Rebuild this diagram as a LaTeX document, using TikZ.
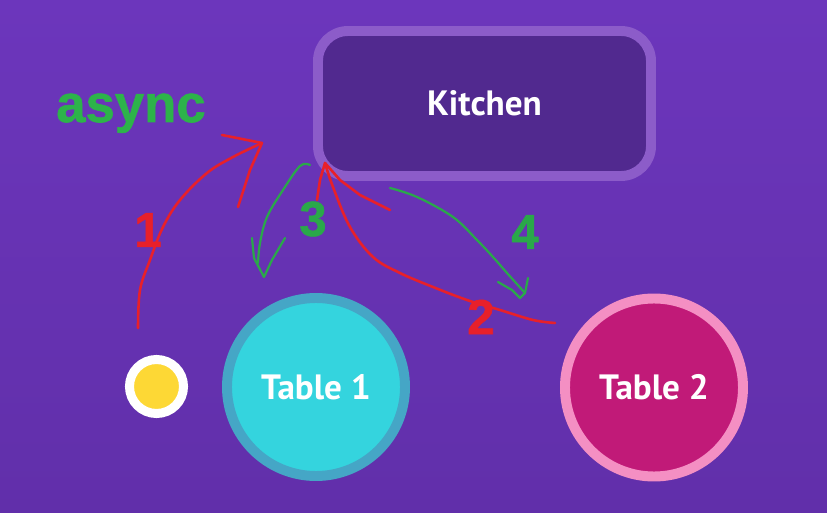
\documentclass[tikz,border=0pt]{standalone}
\usepackage{fontspec}
\setmainfont{PT Sans}
\newfontfamily\arialb{Liberation Sans Bold}[FakeBold=1.2]
\definecolor{bgtop}{HTML}{6C36BC}
\definecolor{bgbot}{HTML}{612FAA}
\definecolor{kring}{HTML}{8C5CC9}
\definecolor{kfill}{HTML}{51298F}
\definecolor{t1ring}{HTML}{45A6C6}
\definecolor{t1fill}{HTML}{34D4DE}
\definecolor{t2ring}{HTML}{F48FC3}
\definecolor{t2fill}{HTML}{C11A78}
\definecolor{dotyel}{HTML}{FDD835}
\definecolor{penred}{HTML}{E8202A}
\definecolor{pengreen}{HTML}{2AA84A}
\definecolor{asyncgreen}{HTML}{2DB34A}
\tikzset{
  boxlabel/.style={text=white,font=\fontsize{30}{36}\selectfont\bfseries},
  tablebox/.style={circle,minimum size=5.34cm,line width=8.5pt,boxlabel},
  redpen/.style={draw=penred,line width=2.2pt,line cap=round,line join=round},
  greenpen/.style={draw=pengreen,line width=1.9pt,line cap=round,line join=round},
  numred/.style={text=penred,font=\arialb\fontsize{42}{48}\selectfont},
  numgreen/.style={text=pengreen,font=\arialb\fontsize{42}{48}\selectfont}
}
\begin{document}
\begin{tikzpicture}[x=0.03cm,y=-0.03cm]
\useasboundingbox (0,0) rectangle (827,513);
\shade[top color=bgtop,bottom color=bgbot] (0,0) rectangle (827,513);

% Kitchen
\node[boxlabel,draw=kring,fill=kfill,line width=8.5pt,rounded corners=0.9cm,
      minimum width=9.99cm,minimum height=4.35cm] (kitchen) at (484.5,103.5) {Kitchen};

% Tables
\node[tablebox,draw=t1ring,fill=t1fill] (table1) at (316,387) {Table 1};
\node[tablebox,draw=t2ring,fill=t2fill] (table2) at (654,387.5) {Table 2};

% Yellow dot
\node[circle,draw=white,fill=dotyel,line width=7.7pt,minimum size=1.62cm] (dot) at (156.5,386.5) {};

% async label
\node[text=asyncgreen,font=\arialb\fontsize{45}{50}\selectfont,anchor=base west,inner sep=0pt] (async) at (56,122) {async};

% numbers
\node[numred] (n1) at (148,230) {1};
\node[numred] (n2) at (481,317) {2};
\node[numgreen] (n3) at (313,219) {3};
\node[numgreen] (n4) at (525,232) {4};

% coordinates
\coordinate (a1s) at (138,328);
\coordinate (a1t) at (262,143);
\coordinate (a2s) at (555,323);
\coordinate (a2t) at (325,163);
\coordinate (a3s) at (310,165);
\coordinate (a3t) at (264,277);
\coordinate (a4s) at (390,188);
\coordinate (a4t) at (525,293);

% Arrow 1 (red)
\draw[redpen] plot[smooth,tension=0.6] coordinates {(a1s) (140,290) (150,260) (163,227) (180,200) (207,173) (233,157) (a1t)};
\draw[redpen] (222,135) -- (a1t) -- (250,170) -- (238,207);

% Arrow 2 (red)
\draw[redpen] plot[smooth,tension=0.6] coordinates {(a2s) (533,320) (500,310) (467,300) (433,287) (400,273) (373,257) (350,227) (333,187) (a2t)};
\draw[redpen] (317,200) -- (320,180) -- (a2t) -- (340,180) -- (360,195) -- (390,210);

% Arrow 3 (green)
\draw[greenpen] plot[smooth,tension=0.6] coordinates {(a3s) (300,166) (283,190) (267,217) (260,243) (258,263)};
\draw[greenpen] (252,238) -- (254,258) -- (a3t) -- (272,260) -- (285,238);

% Arrow 4 (green)
\draw[greenpen] plot[smooth,tension=0.6] coordinates {(a4s) (417,197) (453,217) (477,240) (493,257) (507,273) (a4t)};
\draw[greenpen] (498,282) -- (512,290) -- (520,298) -- (a4t) -- (528,278);
\end{tikzpicture}
\end{document}
